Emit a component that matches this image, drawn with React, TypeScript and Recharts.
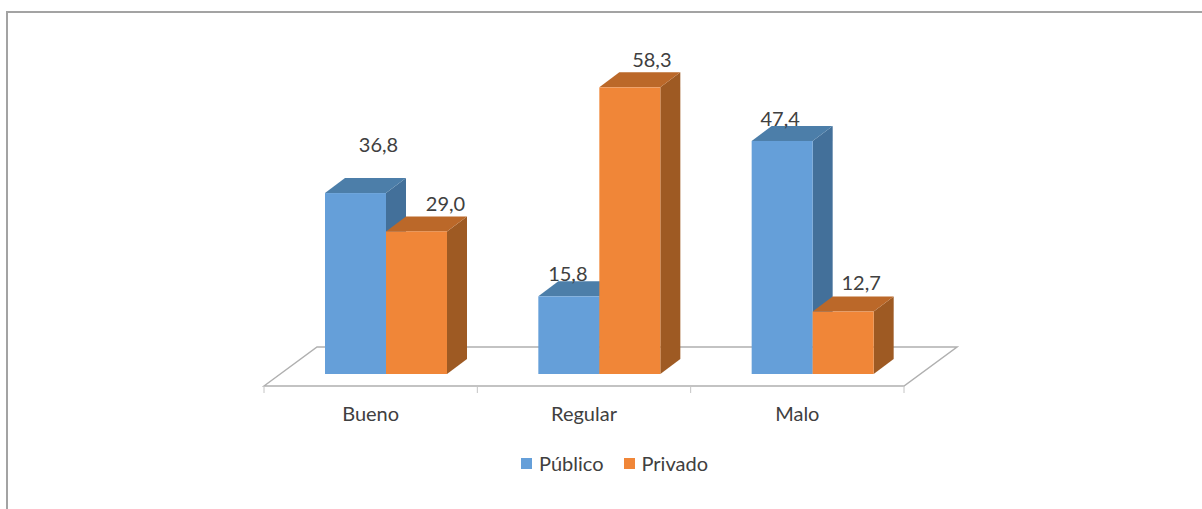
import { BarChart, Bar, XAxis, YAxis, Legend, LabelList, usePlotArea } from "recharts";

const CATEGORIES = ["Bueno", "Regular", "Malo"];
const PUBLICO = [36.8, 15.8, 47.4];
const PRIVADO = [29.0, 58.3, 12.7];

const data = CATEGORIES.map((name, i) => ({ name, publico: PUBLICO[i], privado: PRIVADO[i] }));

const FONT = "Lato, sans-serif";
const TEXT_COLOR = "#404040";

// fake 3D extrusion of each column
const DEPTH_X = 20;
const DEPTH_Y = 15;
// columns stand in the middle of the floor, not at the front edge
const BAR_SHIFT = 15;

const BLUE = { front: "#659fd9", top: "#4c7ea9", side: "#43709a" };
const ORANGE = { front: "#f08638", top: "#bb6829", side: "#9e5a23" };

// data labels were placed by hand in the original chart: [dx, dy] from the top of the column
const PUBLICO_LABEL_NUDGE = [[23, -49], [-1, -23], [-2, -23]];
const PRIVADO_LABEL_NUDGE = [[29, -28], [22, -28], [18, -30]];

function Column3D({ x, y, width, height, colors }: any) {
  const left = x + BAR_SHIFT;
  const right = left + width;
  const bottom = y + height;
  return (
    <g>
      <polygon
        points={`${right},${y} ${right + DEPTH_X},${y - DEPTH_Y} ${right + DEPTH_X},${bottom - DEPTH_Y} ${right},${bottom}`}
        fill={colors.side}
      />
      <polygon
        points={`${left},${y} ${left + DEPTH_X},${y - DEPTH_Y} ${right + DEPTH_X},${y - DEPTH_Y} ${right},${y}`}
        fill={colors.top}
      />
      <rect x={left} y={y} width={width} height={height} fill={colors.front} />
    </g>
  );
}

// the floor parallelogram and the category separators hanging off its front edge
function Floor() {
  const plot = usePlotArea();
  if (!plot) return null;
  const baseline = plot.y + plot.height;
  const front = baseline + 12;
  const back = baseline - 27;
  const x0 = plot.x;
  const x1 = plot.x + plot.width;
  const step = plot.width / CATEGORIES.length;
  return (
    <g>
      <polygon
        points={`${x0},${front} ${x0 + 53},${back} ${x1 + 53},${back} ${x1},${front}`}
        fill="#ffffff"
        stroke="#b0b0b0"
        strokeWidth={1.5}
      />
      {[0, 1, 2, 3].map((i) => (
        <line
          key={i}
          x1={x0 + step * i}
          x2={x0 + step * i}
          y1={front}
          y2={front + 7}
          stroke="#c4c4c4"
          strokeWidth={1}
        />
      ))}
    </g>
  );
}

const renderLabel = (nudge: number[][]) => (props: any) => {
  const { x, y, width, value, index } = props;
  const [dx, dy] = nudge[index];
  return (
    <text
      x={x + BAR_SHIFT + width / 2 + dx}
      y={y + dy}
      textAnchor="middle"
      dominantBaseline="central"
      fontFamily={FONT}
      fontSize={20}
      fill={TEXT_COLOR}
    >
      {Number(value).toFixed(1).replace(".", ",")}
    </text>
  );
};

function LegendRow({ payload }: any) {
  return (
    <div style={{ display: "flex", justifyContent: "center", fontFamily: FONT, fontSize: 20, color: TEXT_COLOR }}>
      {(payload || []).map((item: any, i: number) => (
        <div key={item.value} style={{ display: "flex", alignItems: "center", marginLeft: i ? 20 : 0 }}>
          <span style={{ width: 11, height: 11, background: item.color, marginRight: 7 }} />
          <span>{item.value}</span>
        </div>
      ))}
    </div>
  );
}

export default function App() {
  return (
    <div style={{ position: "absolute", left: 0, top: 0, width: 1202, height: 509, background: "#ffffff", overflow: "hidden" }}>
      {/* outer chart frame, cropped at the right and bottom */}
      <div
        style={{
          position: "absolute",
          left: 6,
          top: 11,
          width: 1300,
          height: 520,
          border: "2px solid #a3a3a3",
          boxSizing: "content-box",
        }}
      />
      <BarChart
        width={1202}
        height={509}
        data={data}
        barSize={61}
        barGap={0}
        margin={{ top: 79, right: 298, bottom: 81, left: 264 }}
        style={{ position: "absolute", left: 0, top: 0 }}
      >
        <Floor />
        <XAxis
          dataKey="name"
          axisLine={false}
          tickLine={false}
          interval={0}
          tickMargin={27}
          tick={{ fontFamily: FONT, fontSize: 20, fill: TEXT_COLOR }}
        />
        <YAxis hide width={0} domain={[0, 60]} />
        <Legend
          verticalAlign="bottom"
          itemSorter={null as any}
          wrapperStyle={{ position: "absolute", left: 0, width: 1229, top: 451, bottom: "auto" }}
          content={<LegendRow />}
        />
        <Bar
          dataKey="publico"
          name="Público"
          fill={BLUE.front}
          isAnimationActive={false}
          shape={(props: any) => <Column3D {...props} colors={BLUE} />}
        >
          <LabelList dataKey="publico" content={renderLabel(PUBLICO_LABEL_NUDGE)} />
        </Bar>
        <Bar
          dataKey="privado"
          name="Privado"
          fill={ORANGE.front}
          isAnimationActive={false}
          shape={(props: any) => <Column3D {...props} colors={ORANGE} />}
        >
          <LabelList dataKey="privado" content={renderLabel(PRIVADO_LABEL_NUDGE)} />
        </Bar>
      </BarChart>
    </div>
  );
}
